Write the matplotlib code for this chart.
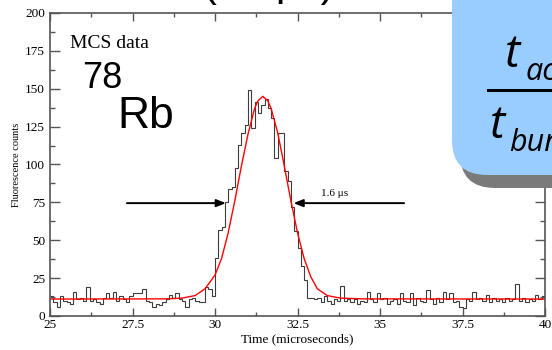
import numpy as np
import matplotlib
matplotlib.use('Agg')
import matplotlib.pyplot as plt
from matplotlib.patches import FancyBboxPatch, Rectangle
from matplotlib.ticker import MultipleLocator

# --- data ---
bin_start, bin_width = 25.0, 0.1
counts = [13, 9, 6, 13, 10, 9, 8, 16, 11, 12, 10, 19, 10, 11, 9, 8, 12, 15, 12, 16,
          10, 13, 11, 9, 13, 15, 15, 15, 18, 10, 9, 6, 8, 7, 9, 11, 14, 12, 15, 11,
          10, 6, 11, 12, 10, 9, 9, 19, 18, 13,
          38, 57, 59, 75, 84, 85, 98, 113, 121, 126,
          149, 124, 141, 134, 139, 143, 137, 131, 104, 121,
          121, 96, 89, 72, 56, 45, 33, 24, 12,
          12, 11, 12, 9, 13, 10, 8, 11, 10, 20, 10, 11, 9, 11, 8, 10, 9, 16, 11, 9,
          15, 11, 12, 8, 10, 11, 8, 15, 10, 9, 15, 7, 12, 10, 9, 17, 11, 8, 12, 9,
          16, 11, 15, 9, 10, 6, 5, 11, 10, 16, 11, 12, 10, 14, 9, 12, 10, 11, 9, 12,
          10, 11, 21, 10, 12, 9, 11, 10, 14, 11, 13]

fit_t = [25.0, 28.5, 29.0, 29.4, 29.7, 30.0, 30.2, 30.4, 30.6, 30.8, 31.0, 31.2,
         31.3, 31.45, 31.6, 31.7, 31.9, 32.1, 32.3, 32.5, 32.7, 32.9, 33.1, 33.4,
         33.8, 34.5, 40.0]
fit_counts = [11.2, 11.3, 11.8, 13.5, 18, 27, 38, 55, 76, 99, 120, 137,
              142, 145, 142, 137, 121, 99, 76, 55, 38, 26, 18, 13.5,
              11.8, 11.3, 11.2]

fwhm_y = 74.5
fwhm_left = (27.33, 30.33)
fwhm_right = (35.73, 32.38)
fwhm_label = '1.6 μs'

plt.rcParams['font.family'] = ['Liberation Serif', 'DejaVu Serif']

fig = plt.figure(figsize=(5.52, 3.5), dpi=100)
ax = fig.add_axes([50 / 552, 1 - 316 / 350, 495 / 552, 303 / 350])

edges = bin_start + bin_width * np.arange(len(counts) + 1)
ax.stairs(counts, edges, baseline=None, color='#3c3c3c', lw=0.8)
ax.plot(fit_t, fit_counts, color='red', lw=1.0)

arrow = dict(arrowstyle='-|>,head_length=0.55,head_width=0.22', color='black', lw=1.4,
             shrinkA=0, shrinkB=0)
ax.annotate('', xy=(fwhm_left[1], fwhm_y), xytext=(fwhm_left[0], fwhm_y), arrowprops=arrow)
ax.annotate('', xy=(fwhm_right[1], fwhm_y), xytext=(fwhm_right[0], fwhm_y), arrowprops=arrow)
ax.text(33.2, 79, fwhm_label, fontsize=8)

ax.set_xlim(25, 40)
ax.set_ylim(0, 200)
ax.xaxis.set_major_locator(MultipleLocator(2.5))
ax.xaxis.set_minor_locator(MultipleLocator(1.25))
ax.yaxis.set_major_locator(MultipleLocator(25))
ax.yaxis.set_minor_locator(MultipleLocator(12.5))
ax.set_xticks([25, 27.5, 30, 32.5, 35, 37.5, 40])
ax.set_xticklabels(['25', '27.5', '30', '32.5', '35', '37.5', '40'])
ax.tick_params(axis='both', which='both', direction='in', top=True, right=True,
               color='#555555', width=1.0, labelsize=9.5)
ax.tick_params(axis='x', which='major', length=5.5, pad=2.5)
ax.tick_params(axis='x', which='minor', length=3)
ax.tick_params(axis='y', which='major', length=7, pad=3.5)
ax.tick_params(axis='y', which='minor', length=3.5)
for s in ax.spines.values():
    s.set_color('#555555')
    s.set_linewidth(1.2)
ax.set_xlabel('Time (microseconds)', fontsize=9.5, labelpad=1)
ax.set_ylabel('Fluorescence counts', fontsize=7.5, labelpad=3)

# figure-pixel helper (origin top-left, like the picture)
def px(x, y):
    return x / 100, (350 - y) / 100

tr = fig.dpi_scale_trans
fig.text(*px(70, 48), 'MCS data', fontsize=14, transform=tr)
fig.text(*px(82, 88), '78', fontsize=26, family='Liberation Sans', transform=tr)
fig.text(*px(117, 128), 'Rb', fontsize=32, family='Liberation Sans', transform=tr)
fig.text(*px(203, -4), '(~3 μs)', fontsize=30, family='Liberation Sans', transform=tr)

# callout box with shadow (lower-left corners given)
shadow = FancyBboxPatch(px(460, 188), 2.0, 2.62, boxstyle='round,pad=0,rounding_size=0.35',
                        transform=tr, fc='#7a7a7a', ec='none', zorder=9)
box = FancyBboxPatch(px(452, 175), 2.0, 2.62, boxstyle='round,pad=0,rounding_size=0.35',
                     transform=tr, fc='#99ccff', ec='none', zorder=10)
fig.add_artist(shadow)
fig.add_artist(box)
fig.add_artist(Rectangle(px(487, 91.5), 1.0, 0.03, transform=tr, fc='black', ec='none', zorder=11))
sans_it = dict(family=['Open Sans', 'DejaVu Sans'], style='italic', color='black', zorder=12,
               transform=tr)
fig.text(*px(505, 67), 't', fontsize=33, **sans_it)
fig.text(*px(526, 80), 'ac', fontsize=22, **sans_it)
fig.text(*px(490, 138), 't', fontsize=33, **sans_it)
fig.text(*px(509, 151), 'bun', fontsize=22, **sans_it)

fig.savefig('out.png', dpi=100)
